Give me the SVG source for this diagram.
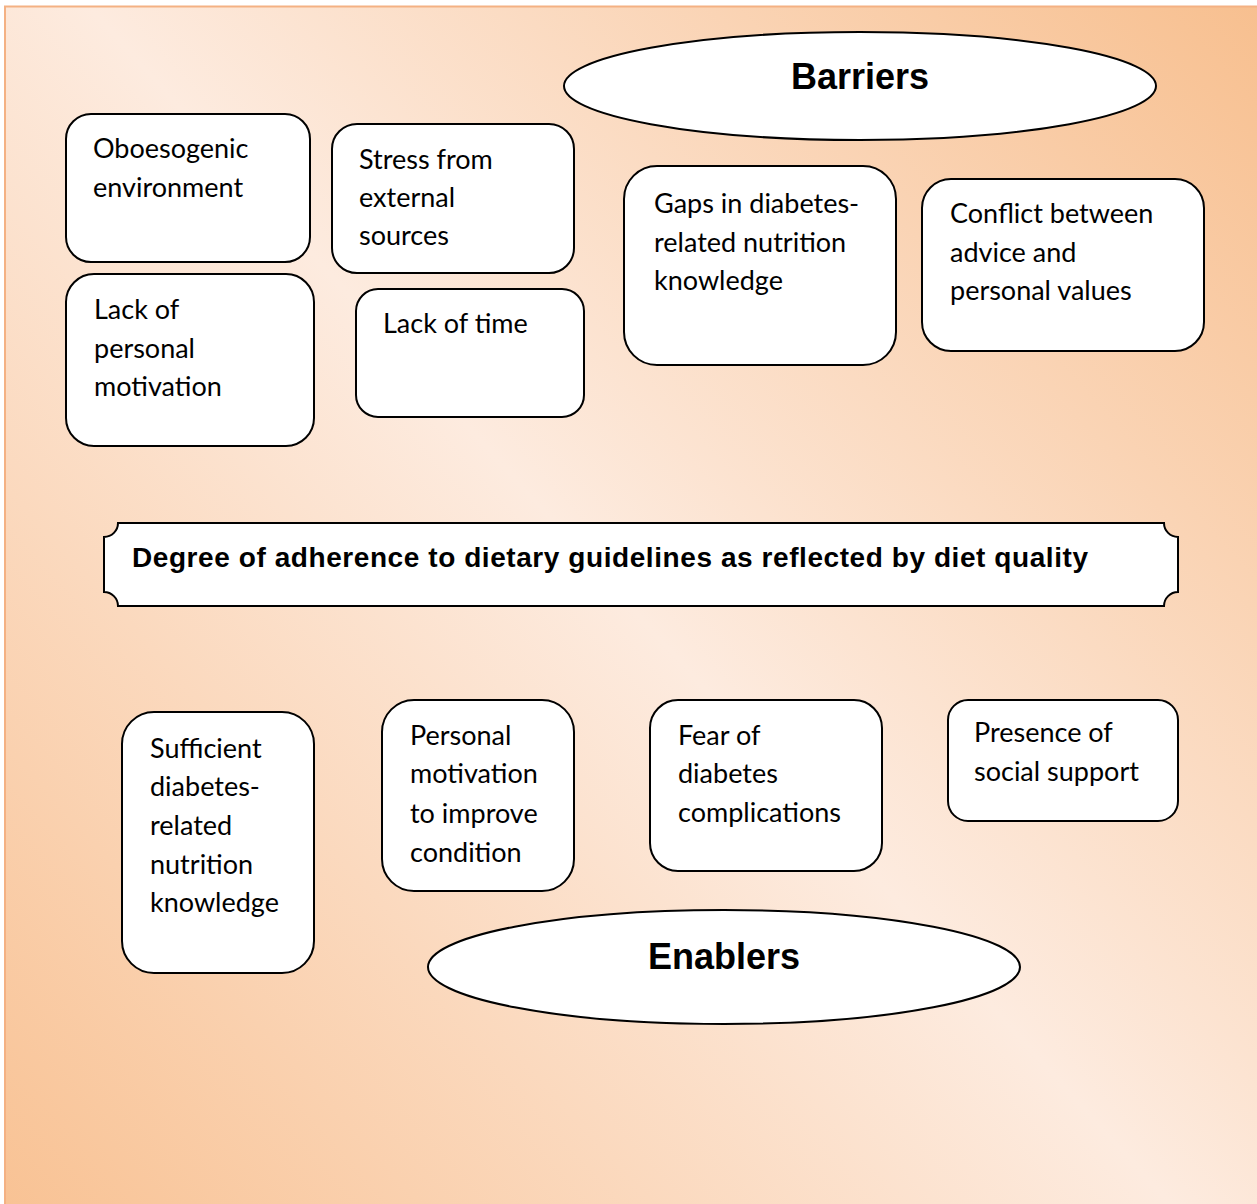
<svg xmlns="http://www.w3.org/2000/svg" width="1257" height="1204" viewBox="0 0 1257 1204">
  <defs>
    <linearGradient id="bg" gradientUnits="userSpaceOnUse" x1="1400" y1="-100" x2="-150" y2="1300">
      <stop offset="0.05" stop-color="#F7BC89"/>
      <stop offset="0.5" stop-color="#FDEBDF"/>
      <stop offset="0.95" stop-color="#F8BF8E"/>
    </linearGradient>
    <style>
      .box { fill: #FFFFFF; stroke: #000000; stroke-width: 2; }
      .lbl { font-family: Lato, "Open Sans", "Liberation Sans", sans-serif; font-size: 27px; fill: #000000; }
      .head { font-family: "Liberation Sans", Arial, sans-serif; font-weight: bold; font-size: 36px; fill: #000000; text-anchor: middle; }
      .banner { font-family: "Liberation Sans", Arial, sans-serif; font-weight: bold; font-size: 28px; fill: #000000; }
    </style>
  </defs>

  <rect x="5" y="6.5" width="1262" height="1210" fill="url(#bg)" stroke="#F4B183" stroke-width="2"/>

  <g id="connectors"></g>

  <g id="barriers">
    <ellipse class="box" cx="860" cy="86" rx="296" ry="54"/>
    <text class="head" x="860" y="89">Barriers</text>
  </g>

  <g id="oboesogenic">
    <rect class="box" x="66" y="114" width="244" height="148" rx="25"/>
    <text class="lbl" x="93"><tspan x="93" y="158">Oboesogenic</tspan><tspan x="93" y="197">environment</tspan></text>
  </g>

  <g id="stress">
    <rect class="box" x="332" y="124" width="242" height="149" rx="25"/>
    <text class="lbl"><tspan x="359" y="169">Stress from</tspan><tspan x="359" y="207">external</tspan><tspan x="359" y="245">sources</tspan></text>
  </g>

  <g id="lack-motivation">
    <rect class="box" x="66" y="274" width="248" height="172" rx="28"/>
    <text class="lbl"><tspan x="94" y="319">Lack of</tspan><tspan x="94" y="358">personal</tspan><tspan x="94" y="396">motivation</tspan></text>
  </g>

  <g id="lack-time">
    <rect class="box" x="356" y="289" width="228" height="128" rx="22"/>
    <text class="lbl"><tspan x="383" y="333">Lack of time</tspan></text>
  </g>

  <g id="gaps">
    <rect class="box" x="624" y="166" width="272" height="199" rx="33"/>
    <text class="lbl"><tspan x="654" y="213">Gaps in diabetes-</tspan><tspan x="654" y="252">related nutrition</tspan><tspan x="654" y="290">knowledge</tspan></text>
  </g>

  <g id="conflict">
    <rect class="box" x="922" y="179" width="282" height="172" rx="29"/>
    <text class="lbl"><tspan x="950" y="223">Conflict between</tspan><tspan x="950" y="262">advice and</tspan><tspan x="950" y="300">personal values</tspan></text>
  </g>

  <g id="degree">
    <path class="box" d="M118,523 H1164 A14,14 0 0 0 1178,537 V592 A14,14 0 0 0 1164,606 H118 A14,14 0 0 0 104,592 V537 A14,14 0 0 0 118,523 Z"/>
    <text class="banner" x="132" y="567" textLength="956">Degree of adherence to dietary guidelines as reflected by diet quality</text>
  </g>

  <g id="sufficient">
    <rect class="box" x="122" y="712" width="192" height="261" rx="32"/>
    <text class="lbl"><tspan x="150" y="758">Sufficient</tspan><tspan x="150" y="796">diabetes-</tspan><tspan x="150" y="835">related</tspan><tspan x="150" y="874">nutrition</tspan><tspan x="150" y="912">knowledge</tspan></text>
  </g>

  <g id="personal">
    <rect class="box" x="382" y="700" width="192" height="191" rx="32"/>
    <text class="lbl"><tspan x="410" y="745">Personal</tspan><tspan x="410" y="783">motivation</tspan><tspan x="410" y="823">to improve</tspan><tspan x="410" y="862">condition</tspan></text>
  </g>

  <g id="fear">
    <rect class="box" x="650" y="700" width="232" height="171" rx="28"/>
    <text class="lbl"><tspan x="678" y="745">Fear of</tspan><tspan x="678" y="783">diabetes</tspan><tspan x="678" y="822">complications</tspan></text>
  </g>

  <g id="presence">
    <rect class="box" x="948" y="700" width="230" height="121" rx="20"/>
    <text class="lbl"><tspan x="974" y="742">Presence of</tspan><tspan x="974" y="781">social support</tspan></text>
  </g>

  <g id="enablers">
    <ellipse class="box" cx="724" cy="967" rx="296" ry="57"/>
    <text class="head" x="724" y="969">Enablers</text>
  </g>
</svg>
